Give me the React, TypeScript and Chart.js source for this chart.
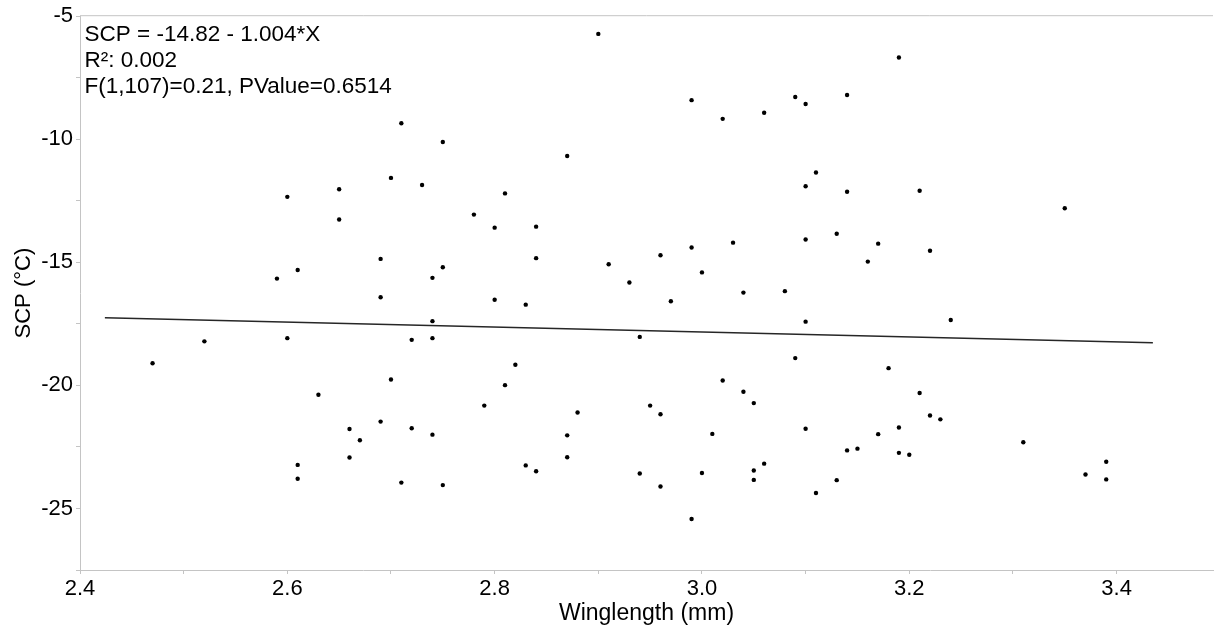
import React, { useEffect, useRef } from 'react';
import { Chart, registerables } from 'chart.js';

Chart.register(...registerables);

// Winglength (mm) of each specimen
const wingLength: number[] = [
  2.90, 2.71, 2.75, 2.87, 2.70, 2.65, 2.73, 2.60, 2.81, 2.65,
  2.78, 2.80, 2.84, 2.69, 2.84, 2.61, 2.75, 2.59, 2.74, 2.91,
  2.93, 2.69, 2.80, 2.83, 2.74, 2.52, 2.60, 2.72, 2.74, 2.47,
  2.82, 2.70, 2.81, 2.63, 2.79, 2.88, 2.69, 2.66, 2.72, 2.67,
  2.74, 2.87, 2.66, 2.87, 2.61, 2.83, 2.84, 2.61, 2.71, 2.75,
  3.19, 2.99, 3.02, 3.06, 3.09, 3.10, 3.14, 3.11, 3.10, 3.14,
  3.21, 3.35, 3.13, 3.10, 3.17, 3.03, 2.99, 2.96, 3.22, 3.16,
  3.00, 3.04, 3.08, 2.97, 3.10, 3.24, 2.94, 3.09, 3.18, 3.02,
  3.04, 3.05, 2.95, 2.96, 3.21, 3.22, 3.23, 3.10, 3.01, 3.17,
  3.19, 3.31, 3.14, 3.15, 3.19, 3.20, 3.06, 3.05, 3.05, 2.94,
  3.00, 2.96, 3.13, 3.11, 2.99, 3.39, 3.37, 3.39,
];

// Supercooling point (°C) of each specimen
const scpValues: number[] = [
  -5.72, -9.35, -10.11, -10.68, -11.57, -12.03, -11.86, -12.34, -12.20, -13.26,
  -13.06, -13.59, -13.55, -14.86, -14.83, -15.31, -15.20, -15.66, -15.63, -15.08,
  -15.82, -16.42, -16.52, -16.72, -17.39, -18.21, -18.08, -18.15, -18.08, -19.10,
  -19.16, -19.76, -19.99, -20.38, -20.82, -21.10, -21.47, -21.77, -21.74, -22.23,
  -22.00, -22.03, -22.93, -22.92, -23.23, -23.25, -23.49, -23.79, -23.95, -24.05,
  -6.68, -8.41, -9.17, -8.92, -8.28, -8.57, -8.20, -11.35, -11.91, -12.13,
  -12.09, -12.80, -13.84, -14.07, -14.24, -14.20, -14.40, -14.71, -14.53, -14.97,
  -15.41, -16.23, -16.17, -16.58, -17.41, -17.34, -18.03, -18.89, -19.30, -19.80,
  -20.26, -20.72, -20.82, -21.17, -20.31, -21.22, -21.38, -21.76, -21.97, -21.98,
  -21.71, -22.31, -22.64, -22.57, -22.74, -22.82, -23.18, -23.46, -23.84, -23.58,
  -23.56, -24.11, -23.85, -24.37, -25.43, -23.10, -23.62, -23.82,
];

// Fitted regression line end points
const fitLineX: number[] = [2.424, 3.435];
const fitLineY: number[] = [-17.25, -18.27];

// Axis ranges and tick steps
const xRange: number[] = [2.4, 3.493];
const yRange: number[] = [-27.5, -5];
const xTickStep = 0.1;
const yTickStep = 2.5;

// Statistics text
const statsLines: string[] = [
  'SCP = -14.82 - 1.004*X',
  'R\u00B2: 0.002',
  'F(1,107)=0.21, PValue=0.6514',
];

const xTitle = 'Winglength (mm)';
const yTitle = 'SCP (\u00B0C)';

const FONT = '"Liberation Sans", Arial, sans-serif';
const AXIS_GRAY = '#c4c4c4';

const framePlugin = {
  id: 'frameAndStats',
  beforeDatasetsDraw(chart: any) {
    const { ctx, chartArea } = chart;
    ctx.save();
    ctx.strokeStyle = AXIS_GRAY;
    ctx.lineWidth = 1;
    ctx.beginPath();
    ctx.moveTo(chartArea.left, chartArea.top - 0.5);
    ctx.lineTo(chartArea.right, chartArea.top - 0.5);
    ctx.stroke();
    ctx.restore();
  },
  afterDraw(chart: any) {
    const { ctx, chartArea } = chart;
    ctx.save();
    ctx.fillStyle = '#000';
    ctx.font = `22.5px ${FONT}`;
    ctx.textAlign = 'left';
    ctx.textBaseline = 'alphabetic';
    statsLines.forEach((line, i) => {
      ctx.fillText(line, chartArea.left + 4.5, chartArea.top + 25 + i * 26);
    });
    ctx.restore();
  },
};

export default function App() {
  const canvasRef = useRef<HTMLCanvasElement | null>(null);

  useEffect(() => {
    if (!canvasRef.current) return;
    const points = wingLength.map((x, i) => ({ x, y: scpValues[i] }));
    const fit = fitLineX.map((x, i) => ({ x, y: fitLineY[i] }));

    const chart = new Chart(canvasRef.current, {
      type: 'scatter',
      data: {
        datasets: [
          {
            type: 'line',
            data: fit,
            borderColor: '#262626',
            borderWidth: 1.5,
            pointRadius: 0,
            showLine: true,
            fill: false,
          } as any,
          {
            type: 'scatter',
            data: points,
            backgroundColor: '#000',
            borderWidth: 0,
            pointRadius: 2.2,
          } as any,
        ],
      },
      options: {
        animation: false,
        responsive: false,
        devicePixelRatio: 1,
        layout: { padding: { top: 14, right: 0, bottom: 0, left: 0 } },
        plugins: {
          legend: { display: false },
          tooltip: { enabled: false },
        },
        scales: {
          x: {
            type: 'linear',
            min: xRange[0],
            max: xRange[1],
            afterFit: (scale: any) => {
              scale.height = 58;
            },
            ticks: {
              stepSize: xTickStep,
              includeBounds: false,
              autoSkip: false,
              maxRotation: 0,
              padding: 2,
              color: '#000',
              font: { family: FONT, size: 22 },
              callback: (v: any) => {
                const n = Math.round(Number(v) * 10);
                return n % 2 === 0 ? (n / 10).toFixed(1) : '';
              },
            },
            grid: {
              drawOnChartArea: false,
              drawTicks: true,
              tickLength: 4,
              color: AXIS_GRAY,
            },
            border: { display: true, color: AXIS_GRAY },
            title: {
              display: true,
              text: xTitle,
              color: '#000',
              font: { family: FONT, size: 23 },
              padding: { top: 0, bottom: 1 },
            },
          },
          y: {
            type: 'linear',
            min: yRange[0],
            max: yRange[1],
            afterFit: (scale: any) => {
              scale.width = 80;
            },
            ticks: {
              stepSize: yTickStep,
              includeBounds: false,
              autoSkip: false,
              padding: 3,
              color: '#000',
              font: { family: FONT, size: 22 },
              callback: (v: any) => {
                const n = Math.round(Number(v) * 2);
                return n % 10 === 0 ? String(n / 2) : '';
              },
            },
            grid: {
              drawOnChartArea: false,
              drawTicks: true,
              tickLength: 4,
              color: AXIS_GRAY,
            },
            border: { display: true, color: AXIS_GRAY },
            title: {
              display: true,
              text: yTitle,
              color: '#000',
              font: { family: FONT, size: 22 },
              padding: { top: 11, bottom: 0 },
            },
          },
        },
      },
      plugins: [framePlugin],
    });

    return () => {
      chart.destroy();
    };
  }, []);

  return (
    <div style={{ position: 'fixed', left: 0, top: 0, width: 1217, height: 628, background: '#fff' }}>
      <canvas ref={canvasRef} width={1217} height={628} style={{ width: 1217, height: 628, display: 'block' }} />
    </div>
  );
}
